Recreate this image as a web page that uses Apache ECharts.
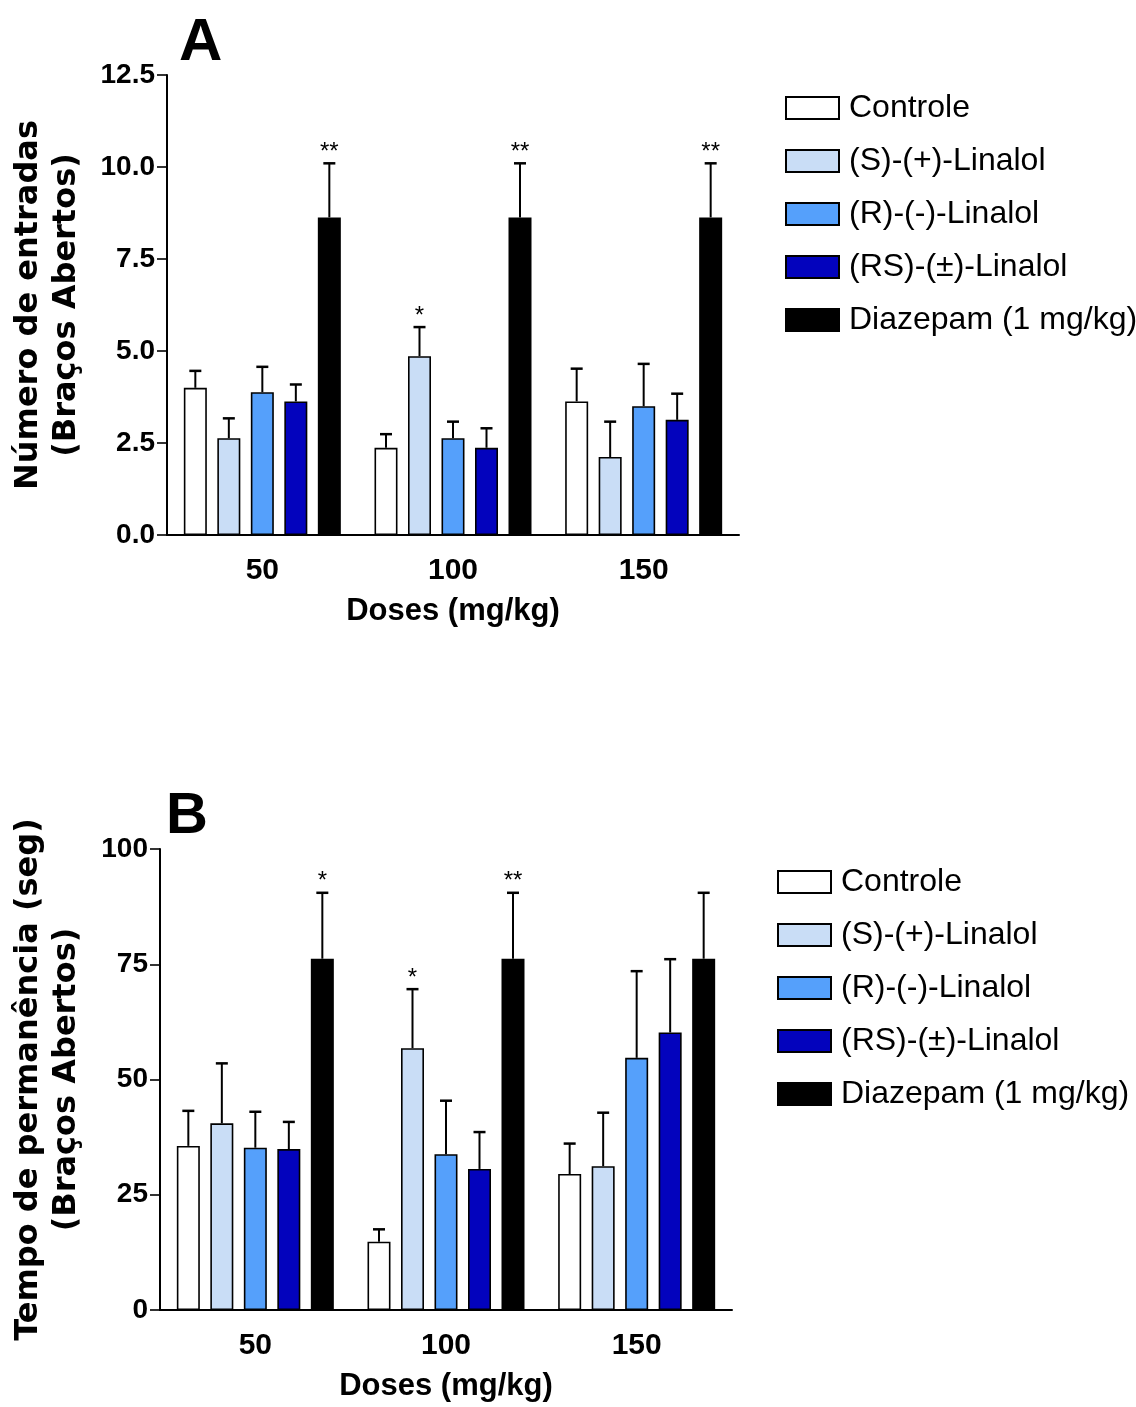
<!DOCTYPE html>
<html>
<head>
<meta charset="utf-8">
<script src="https://cdn.jsdelivr.net/npm/echarts@6/dist/echarts.min.js"></script>
<style>
html,body{margin:0;padding:0;background:#fff;}
#chart{width:1136px;height:1407px;}
</style>
</head>
<body>
<div id="chart"></div>
<script>
// ---------- data ----------
const categories = ['50', '100', '150'];
const seriesNames = ['Controle', '(S)-(+)-Linalol', '(R)-(-)-Linalol', '(RS)-(±)-Linalol', 'Diazepam (1 mg/kg)'];
const seriesColors = ['#ffffff', '#c9ddf6', '#55a0fb', '#0303bd', '#000000'];

// Panel A: Número de entradas (mean and SEM)
const entControle = [4.00, 2.37, 3.63];
const entS = [2.63, 4.86, 2.12];
const entR = [3.88, 2.63, 3.50];
const entRS = [3.63, 2.37, 3.13];
const entDiaz = [8.63, 8.63, 8.63];
const entControleSem = [0.46, 0.37, 0.89];
const entSSem = [0.54, 0.79, 0.96];
const entRSem = [0.69, 0.45, 1.15];
const entRSSem = [0.46, 0.53, 0.71];
const entDiazSem = [1.47, 1.47, 1.47];
const entSig = [['', '', ''], ['', '*', ''], ['', '', ''], ['', '', ''], ['**', '**', '**']];
const entTicks = ['0.0', '2.5', '5.0', '7.5', '10.0', '12.5'];

// Panel B: Tempo de permanência (mean and SEM)
const tempControle = [35.6, 14.8, 29.5];
const tempS = [40.5, 56.8, 31.2];
const tempR = [35.2, 33.8, 54.7];
const tempRS = [34.9, 30.6, 60.2];
const tempDiaz = [76.2, 76.2, 76.2];
const tempControleSem = [7.6, 2.7, 6.6];
const tempSSem = [13.0, 12.8, 11.6];
const tempRSem = [7.8, 11.6, 18.8];
const tempRSSem = [5.9, 8.0, 15.9];
const tempDiazSem = [14.3, 14.3, 14.3];
const tempSig = [['', '', ''], ['', '*', ''], ['', '', ''], ['', '', ''], ['*', '**', '']];
const tempTicks = ['0', '25', '50', '75', '100'];

// ---------- build ----------
const entMeans = [entControle, entS, entR, entRS, entDiaz];
const entSems = [entControleSem, entSSem, entRSem, entRSSem, entDiazSem];
const tempMeans = [tempControle, tempS, tempR, tempRS, tempDiaz];
const tempSems = [tempControleSem, tempSSem, tempRSem, tempRSSem, tempDiazSem];

const BAR_W = 23;
const STEP = 33.5;
const labelFont = 'Liberation Sans, Arial, sans-serif';
const nameFont = 'DejaVu Sans, sans-serif';

function barSeries(means, gi) {
  return means.map((arr, i) => ({
    type: 'bar',
    name: seriesNames[i],
    xAxisIndex: gi, yAxisIndex: gi,
    data: arr,
    barWidth: BAR_W,
    barGap: ((STEP - BAR_W) / BAR_W * 100) + '%',
    itemStyle: { color: seriesColors[i], borderColor: '#000', borderWidth: 1.6 },
    emphasis: { disabled: true },
    animation: false
  }));
}

function errSeries(means, sems, sigs, gi) {
  return means.map((arr, i) => ({
    type: 'custom',
    xAxisIndex: gi, yAxisIndex: gi,
    z: 5,
    animation: false,
    data: arr.map((m, k) => [k, m, sems[i][k]]),
    renderItem: function (params, api) {
      const ci = api.value(0), m = api.value(1), s = api.value(2);
      const b = api.coord([ci, m]);
      const t = api.coord([ci, m + s]);
      const x = b[0] + (i - 2) * STEP;
      const children = [
        { type: 'line', shape: { x1: x, y1: b[1], x2: x, y2: t[1] }, style: { stroke: '#000', lineWidth: 2 } },
        { type: 'line', shape: { x1: x - 6, y1: t[1], x2: x + 6, y2: t[1] }, style: { stroke: '#000', lineWidth: 2.5 } }
      ];
      const sig = sigs[i][params.dataIndex];
      if (sig) {
        children.push({ type: 'text', style: { text: sig, x: x, y: t[1] + 1, textAlign: 'center', textVerticalAlign: 'bottom', font: '24px ' + labelFont, fill: '#000' } });
      }
      return { type: 'group', children: children };
    }
  }));
}

function makeX(gi) {
  return {
    type: 'category', gridIndex: gi, data: categories,
    axisLine: { lineStyle: { color: '#000', width: 2 } },
    axisTick: { show: false },
    axisLabel: { color: '#000', fontSize: 30, fontWeight: 'bold', fontFamily: labelFont, margin: 21 },
    name: 'Doses (mg/kg)', nameLocation: 'middle', nameGap: 61,
    nameTextStyle: { color: '#000', fontSize: 31, fontWeight: 'bold', fontFamily: labelFont }
  };
}

function makeY(gi, max, interval, ticks, name, gap) {
  return {
    type: 'value', gridIndex: gi, min: 0, max: max, interval: interval,
    axisLine: { show: true, lineStyle: { color: '#000', width: 2 } },
    axisTick: { show: true, length: 10, lineStyle: { color: '#000', width: 1.6 } },
    splitLine: { show: false },
    axisLabel: { color: '#000', fontSize: 28, fontWeight: 'bold', fontFamily: labelFont, margin: 12,
      formatter: function (v) { return ticks[Math.round(v / interval)]; } },
    name: name, nameLocation: 'middle', nameGap: gap, nameRotate: 90,
    nameTextStyle: { color: '#000', fontSize: 32, fontWeight: 'bold', fontFamily: nameFont, lineHeight: 38, align: 'center' }
  };
}

function makeLegend(left, top) {
  return {
    left: left, top: top,
    orient: 'vertical', itemWidth: 53, itemHeight: 22, itemGap: 21,
    icon: 'rect',
    textStyle: { color: '#000', fontSize: 32, fontFamily: labelFont, padding: [0, 0, 0, 5] },
    data: seriesNames, selectedMode: false
  };
}

const option = {
  backgroundColor: '#fff',
  animation: false,
  title: [
    { text: 'A', left: 174, top: 8, textStyle: { fontSize: 60, fontWeight: 'bold', color: '#000', fontFamily: labelFont } },
    { text: 'B', left: 161, top: 783, textStyle: { fontSize: 58, fontWeight: 'bold', color: '#000', fontFamily: labelFont } }
  ],
  grid: [
    { left: 167, top: 75, width: 572, height: 460, outerBoundsMode: 'none', containLabel: false },
    { left: 160, top: 849, width: 572, height: 461, outerBoundsMode: 'none', containLabel: false }
  ],
  legend: [makeLegend(780, 87), makeLegend(772, 861)],
  xAxis: [makeX(0), makeX(1)],
  yAxis: [
    makeY(0, 12.5, 2.5, entTicks, 'Número de entradas\n(Braços Abertos)', 81),
    makeY(1, 100, 25, tempTicks, 'Tempo de permanência (seg)\n(Braços Abertos)', 74)
  ],
  series: [].concat(
    barSeries(entMeans, 0),
    barSeries(tempMeans, 1),
    errSeries(entMeans, entSems, entSig, 0),
    errSeries(tempMeans, tempSems, tempSig, 1)
  )
};

const chart = echarts.init(document.getElementById('chart'), null, { renderer: 'canvas' });
chart.setOption(option);
</script>
</body>
</html>
